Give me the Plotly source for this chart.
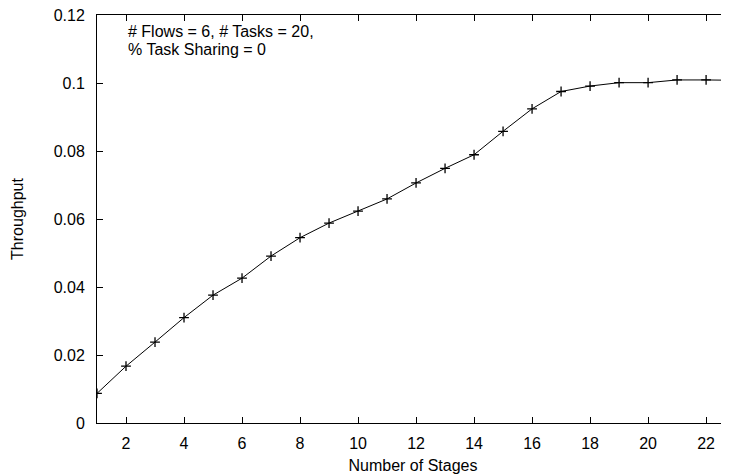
import plotly.graph_objects as go

stages = [1, 2, 3, 4, 5, 6, 7, 8, 9, 10, 11, 12, 13, 14, 15, 16, 17, 18, 19, 20, 21, 22, 23]
throughput = [0.0087, 0.0167, 0.0238, 0.0310, 0.0376, 0.0426, 0.0491, 0.0545, 0.0588,
              0.0623, 0.0659, 0.0706, 0.0749, 0.0789, 0.0858, 0.0924, 0.0975, 0.0991,
              0.1001, 0.1001, 0.1009, 0.1009, 0.1008]
x_ticks = [2, 4, 6, 8, 10, 12, 14, 16, 18, 20, 22]
y_ticks = [0, 0.02, 0.04, 0.06, 0.08, 0.1, 0.12]
y_tick_labels = ["0", "0.02", "0.04", "0.06", "0.08", "0.1", "0.12"]
note_lines = ["# Flows = 6, # Tasks = 20,", "% Task Sharing = 0"]

FONT = "Liberation Sans, Arial, Helvetica, sans-serif"

fig = go.Figure()
fig.add_trace(go.Scatter(
    x=stages, y=throughput, mode="lines+markers",
    line=dict(color="black", width=1),
    marker=dict(symbol="cross-thin", size=7, color="black",
                line=dict(color="black", width=1.3)),
    showlegend=False, hoverinfo="x+y",
))

# page body has an 8px margin; the figure is sized/margined to compensate
fig.update_layout(
    width=721, height=466,
    margin=dict(l=89, r=0, t=7, b=51, autoexpand=False),
    paper_bgcolor="white", plot_bgcolor="white",
    font=dict(family=FONT, size=16, color="black"),
    xaxis=dict(
        range=[1, 22.79], tickvals=x_ticks, ticks="inside", ticklen=6,
        tickwidth=1, tickcolor="black", showline=True, linecolor="black",
        linewidth=1, mirror="ticks", showgrid=False, zeroline=False,
        ticklabelstandoff=6, automargin=False, ticklabeloverflow="allow",
        title=dict(text="Number of Stages", standoff=12, font=dict(size=16)),
    ),
    yaxis=dict(
        range=[0, 0.12], tickvals=y_ticks, ticktext=y_tick_labels,
        ticks="inside", ticklen=6, tickwidth=1, tickcolor="black",
        showline=True, linecolor="black", linewidth=1, showgrid=False,
        zeroline=False, ticklabelstandoff=8, automargin=False,
        ticklabeloverflow="allow",
        title=dict(text="Throughput", standoff=26, font=dict(size=16)),
    ),
    annotations=[
        dict(x=2, y=0.1152, xref="x", yref="y", text=note_lines[0],
             showarrow=False, xanchor="left", yanchor="middle",
             font=dict(size=16)),
        dict(x=2, y=0.1099, xref="x", yref="y", text=note_lines[1],
             showarrow=False, xanchor="left", yanchor="middle",
             font=dict(size=16)),
    ],
)

fig.write_html("out.html")
